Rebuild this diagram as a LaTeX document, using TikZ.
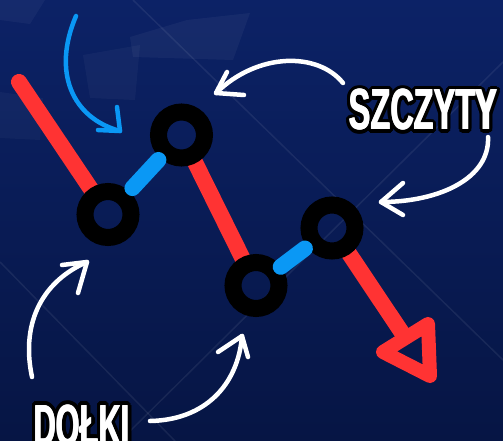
\documentclass[tikz,border=0pt]{standalone}
\usepackage{fontspec}
\newfontfamily\lblfont{Liberation Sans}
\usetikzlibrary{calc}
\definecolor{bgtop}{RGB}{12,34,102}
\definecolor{bgbot}{RGB}{6,21,68}
\definecolor{redc}{RGB}{255,51,51}
\definecolor{bluec}{RGB}{10,152,245}
\newcommand\outlinetext[1]{%
  \foreach \a in {0,22.5,...,337.5}{%
    \pgfmathsetlengthmacro\ox{3.8pt*cos(\a)}%
    \pgfmathsetlengthmacro\oy{3.8pt*sin(\a)}%
    \rlap{\kern\ox\raisebox{\oy}{\color{black}#1}}}%
  \rlap{\kern-0.6pt\color{white}#1}\rlap{\kern0.6pt\color{white}#1}%
  {\color{white}#1}}
\tikzset{
  redline/.style={draw=redc, line width=16},
  pill/.style={draw=bluec, line width=16, line cap=round},
  ring/.style={circle, draw=black, line width=17, minimum size=46, inner sep=0},
  warrow/.style={draw=white, line width=4.5, line cap=round, line join=round},
  barrow/.style={draw=bluec, line width=4.5, line cap=round, line join=round},
  faint/.style={draw=white, opacity=0.07, line width=1.5},
  lbl/.style={inner sep=0, anchor=base west, font=\lblfont\bfseries\fontsize{58}{58}\selectfont}
}
\begin{document}
\begin{tikzpicture}[x=1pt,y=-1pt]
\useasboundingbox (0,0) rectangle (503,441);
\shade[top color=bgtop, bottom color=bgbot] (0,0) rectangle (503,441);
% faint background shapes
\fill[white, opacity=0.045] (130,37) -- (187,20) -- (250,13) -- (233,60) -- (133,57) -- cycle;
\fill[white, opacity=0.04] (0,0) -- (45,0) -- (30,24) -- (0,20) -- cycle;
\fill[white, opacity=0.035] (83,55) -- (140,45) -- (135,100) -- (90,98) -- cycle;
\fill[white, opacity=0.03] (0,92) -- (43,98) -- (40,140) -- (0,138) -- cycle;
\draw[faint] (133,0) -- (503,360);
\draw[faint] (503,62) -- (120,441);
\draw[faint] (0,262) -- (175,441);
% centres
\coordinate (c1) at (108,214.5);
\coordinate (c2) at (181.5,135);
\coordinate (c3) at (256,285.5);
\coordinate (c4) at (332,228);
\coordinate (r0) at (19,82);
\coordinate (t1) at (383,352);
\coordinate (t2) at (428,324);
\coordinate (t3) at (430,376);
\coordinate (tb) at (405.5,338);
% red lines
\draw[redline, line cap=round] (r0) -- ($(c1)!24pt!(r0)$);
\draw[redline] ($(c2)!22pt!(c3)$) -- ($(c3)!22pt!(c2)$);
\draw[redline] ($(c4)!22pt!(tb)$) -- (tb);
\draw[draw=redc, line width=14, line join=round] (t1) -- (t2) -- (t3) -- cycle;
% rings
\node[ring] (n1) at (c1) {};
\node[ring] (n2) at (c2) {};
\node[ring] (n3) at (c3) {};
\node[ring] (n4) at (c4) {};
% blue pills
\draw[pill] ($(c1)!36pt!(c2)$) -- ($(c2)!34pt!(c1)$);
\draw[pill] ($(c3)!31pt!(c4)$) -- ($(c4)!34pt!(c3)$);
% white arrows
\coordinate (a1s) at (343,83);  \coordinate (a1t) at (216,93);
\draw[warrow] (a1s) .. controls (318,52) and (258,52) .. (a1t);
\draw[warrow] (227,72) -- (a1t) -- (244,95);
\coordinate (a2s) at (488,137); \coordinate (a2t) at (381,202);
\draw[warrow] (a2s) .. controls (490,178) and (440,202) .. (a2t);
\draw[warrow] (403,183) -- (a2t) -- (403,215);
\coordinate (a3s) at (32,377);  \coordinate (a3t) at (87,262);
\draw[warrow] (a3s) .. controls (20,320) and (45,280) .. (a3t);
\draw[warrow] (62,265) -- (a3t) -- (78,293);
\coordinate (a4s) at (150,421); \coordinate (a4t) at (242,336);
\draw[warrow] (a4s) .. controls (205,420) and (238,385) .. (a4t);
\draw[warrow] (218,352) -- (a4t) -- (248,357);
% blue arrow
\coordinate (a5s) at (76,16);   \coordinate (a5t) at (120,131);
\draw[barrow] (a5s) .. controls (52,72) and (72,118) .. (a5t);
\draw[barrow] (98,130) -- (a5t) -- (117,107);
% labels
\node[lbl] (szczyty) at (349,130) {\outlinetext{\scalebox{0.56}[1]{SZCZYTY}}};
\node[lbl] (dolki) at (34,445) {\outlinetext{\scalebox{0.53}[1]{DOŁKI}}};
\end{tikzpicture}
\end{document}
